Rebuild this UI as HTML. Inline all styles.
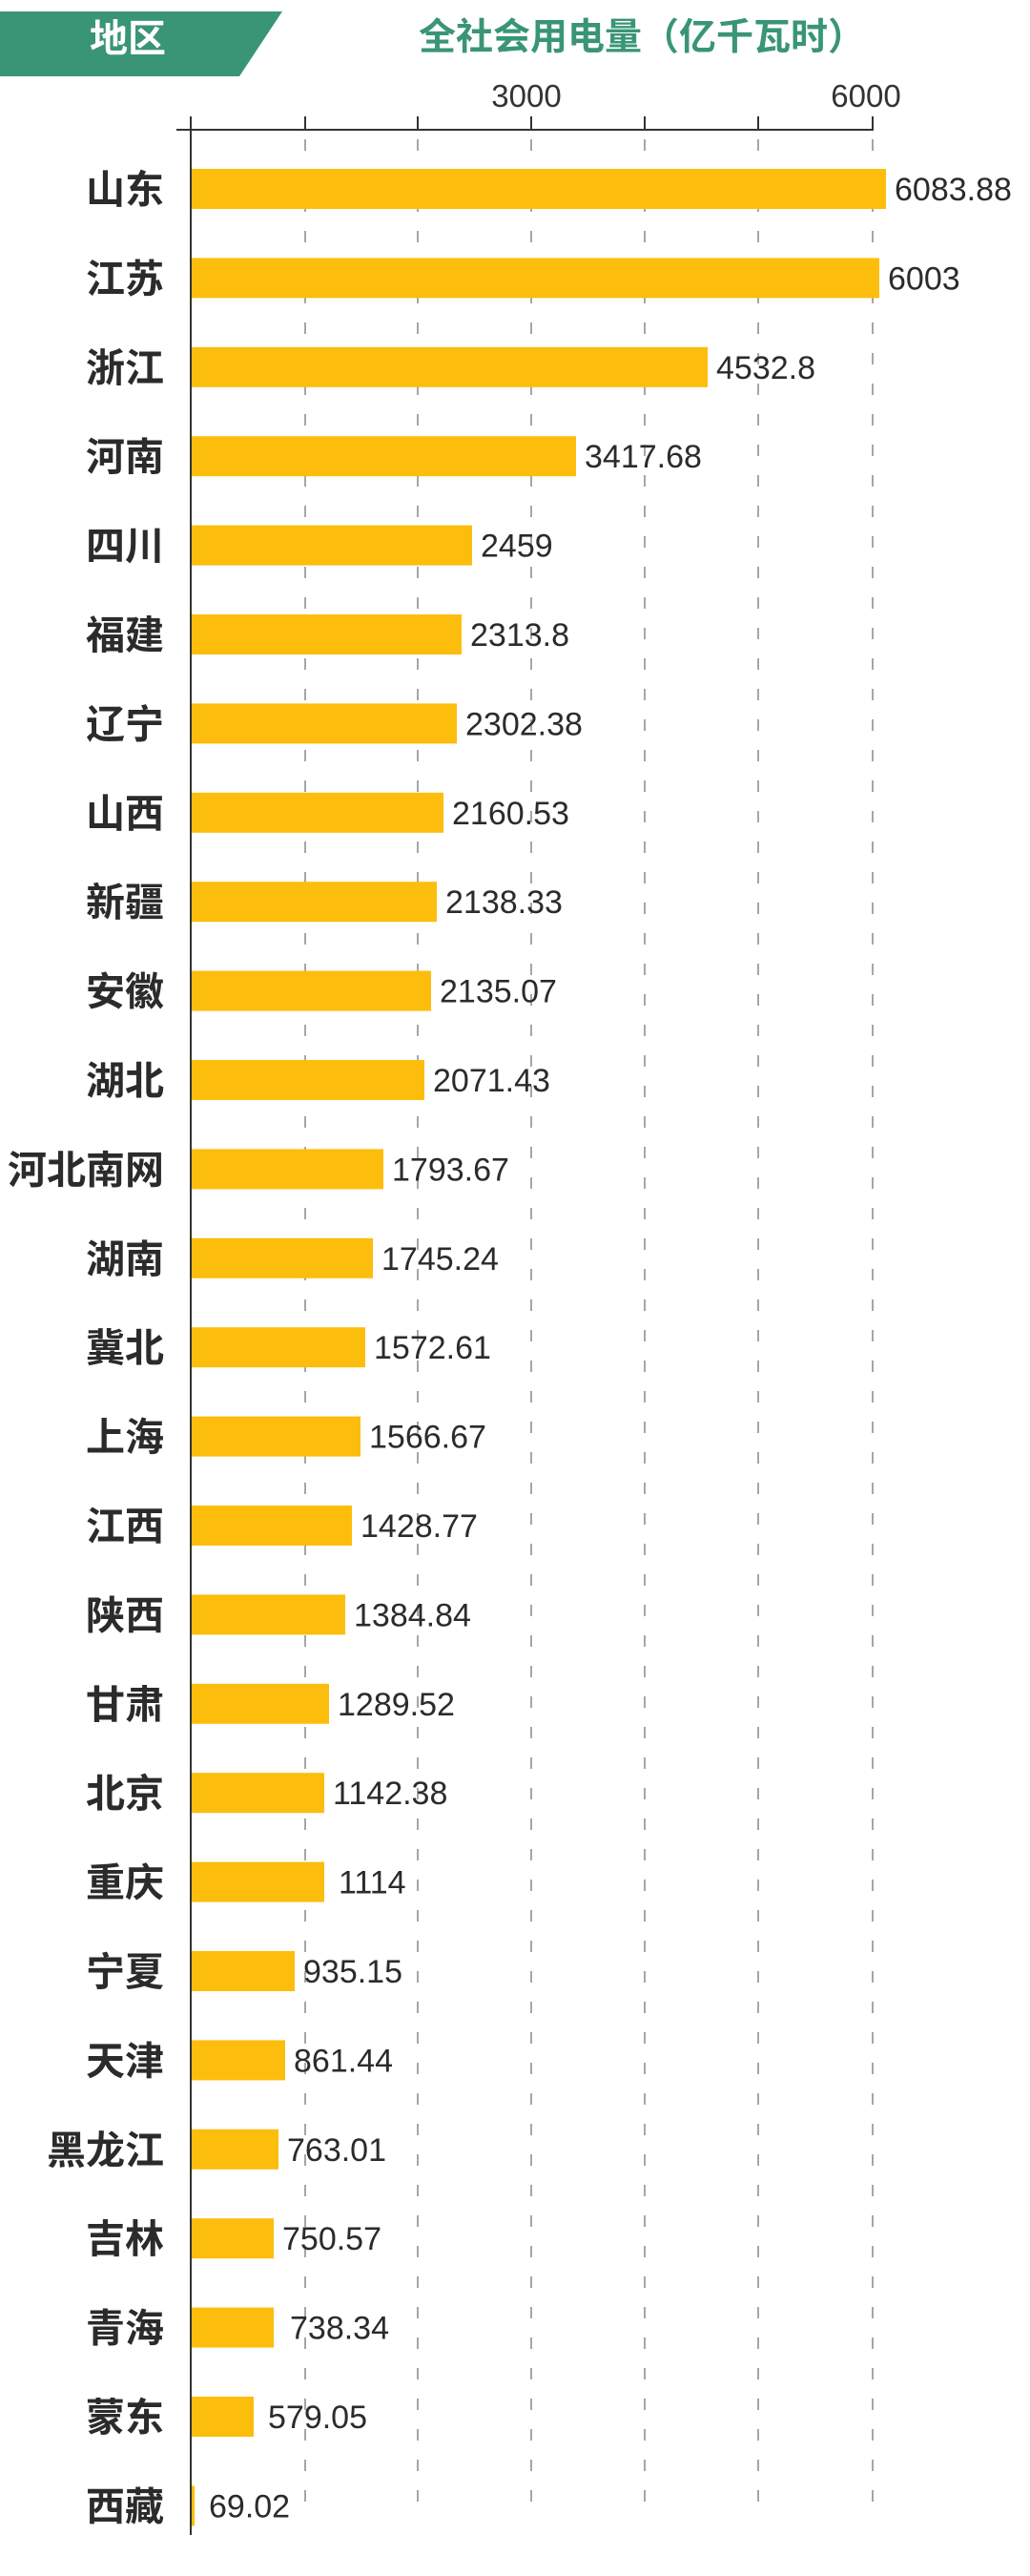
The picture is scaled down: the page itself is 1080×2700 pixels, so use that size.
<!DOCTYPE html>
<html><head><meta charset="utf-8"><style>
html,body{margin:0;padding:0;background:#fff;}
svg{display:block;}
.cat{font-family:"Liberation Sans","Noto Sans CJK SC",sans-serif;font-weight:bold;font-size:41px;fill:#2b2b2b;}
.val{font-family:"Liberation Sans",sans-serif;font-size:34px;fill:#2b2b2b;}
.tick{font-family:"Liberation Sans",sans-serif;font-size:33px;fill:#333;}
</style></head><body>
<svg width="1080" height="2700" viewBox="0 0 1080 2700" xmlns="http://www.w3.org/2000/svg">
<polygon points="0,12 296,12 251,80 0,80" fill="#3a9577"/>
<text x="134" y="54" text-anchor="middle" fill="#fff" font-family="Liberation Sans,Noto Sans CJK SC,sans-serif" font-weight="bold" font-size="40">地区</text>
<text x="673" y="52" text-anchor="middle" fill="#3a9577" font-family="Liberation Sans,Noto Sans CJK SC,sans-serif" font-weight="bold" font-size="39">全社会用电量（亿千瓦时）</text>
<text x="552" y="112" text-anchor="middle" class="tick">3000</text>
<text x="908" y="112" text-anchor="middle" class="tick">6000</text>
<line x1="185" y1="136" x2="916" y2="136" stroke="#333" stroke-width="2"/>
<g stroke="#333" stroke-width="2">
<line x1="320" y1="122" x2="320" y2="136"/><line x1="438" y1="122" x2="438" y2="136"/><line x1="557" y1="122" x2="557" y2="136"/><line x1="676" y1="122" x2="676" y2="136"/><line x1="795" y1="122" x2="795" y2="136"/><line x1="915" y1="122" x2="915" y2="136"/>
</g>
<g stroke="#888" stroke-width="1.5" stroke-dasharray="12,20">
<line x1="320" y1="146" x2="320" y2="2638"/><line x1="438" y1="146" x2="438" y2="2638"/><line x1="557" y1="146" x2="557" y2="2638"/><line x1="676" y1="146" x2="676" y2="2638"/><line x1="795" y1="146" x2="795" y2="2638"/><line x1="915" y1="146" x2="915" y2="2638"/>
</g>
<g transform="translate(0,198)"><rect x="200" y="-21" width="729" height="42" fill="#fdbd0c"/><text class="cat" x="172" y="15" text-anchor="end">山东</text><text class="val" x="938" y="12">6083.88</text></g>
<g transform="translate(0,291.4)"><rect x="200" y="-21" width="722" height="42" fill="#fdbd0c"/><text class="cat" x="172" y="15" text-anchor="end">江苏</text><text class="val" x="931" y="12">6003</text></g>
<g transform="translate(0,384.8)"><rect x="200" y="-21" width="542" height="42" fill="#fdbd0c"/><text class="cat" x="172" y="15" text-anchor="end">浙江</text><text class="val" x="751" y="12">4532.8</text></g>
<g transform="translate(0,478.2)"><rect x="200" y="-21" width="404" height="42" fill="#fdbd0c"/><text class="cat" x="172" y="15" text-anchor="end">河南</text><text class="val" x="613" y="12">3417.68</text></g>
<g transform="translate(0,571.6)"><rect x="200" y="-21" width="295" height="42" fill="#fdbd0c"/><text class="cat" x="172" y="15" text-anchor="end">四川</text><text class="val" x="504" y="12">2459</text></g>
<g transform="translate(0,665)"><rect x="200" y="-21" width="284" height="42" fill="#fdbd0c"/><text class="cat" x="172" y="15" text-anchor="end">福建</text><text class="val" x="493" y="12">2313.8</text></g>
<g transform="translate(0,758.4)"><rect x="200" y="-21" width="279" height="42" fill="#fdbd0c"/><text class="cat" x="172" y="15" text-anchor="end">辽宁</text><text class="val" x="488" y="12">2302.38</text></g>
<g transform="translate(0,851.8)"><rect x="200" y="-21" width="265" height="42" fill="#fdbd0c"/><text class="cat" x="172" y="15" text-anchor="end">山西</text><text class="val" x="474" y="12">2160.53</text></g>
<g transform="translate(0,945.2)"><rect x="200" y="-21" width="258" height="42" fill="#fdbd0c"/><text class="cat" x="172" y="15" text-anchor="end">新疆</text><text class="val" x="467" y="12">2138.33</text></g>
<g transform="translate(0,1038.6)"><rect x="200" y="-21" width="252" height="42" fill="#fdbd0c"/><text class="cat" x="172" y="15" text-anchor="end">安徽</text><text class="val" x="461" y="12">2135.07</text></g>
<g transform="translate(0,1132)"><rect x="200" y="-21" width="245" height="42" fill="#fdbd0c"/><text class="cat" x="172" y="15" text-anchor="end">湖北</text><text class="val" x="454" y="12">2071.43</text></g>
<g transform="translate(0,1225.4)"><rect x="200" y="-21" width="202" height="42" fill="#fdbd0c"/><text class="cat" x="172" y="15" text-anchor="end">河北南网</text><text class="val" x="411" y="12">1793.67</text></g>
<g transform="translate(0,1318.8)"><rect x="200" y="-21" width="191" height="42" fill="#fdbd0c"/><text class="cat" x="172" y="15" text-anchor="end">湖南</text><text class="val" x="400" y="12">1745.24</text></g>
<g transform="translate(0,1412.2)"><rect x="200" y="-21" width="183" height="42" fill="#fdbd0c"/><text class="cat" x="172" y="15" text-anchor="end">冀北</text><text class="val" x="392" y="12">1572.61</text></g>
<g transform="translate(0,1505.6)"><rect x="200" y="-21" width="178" height="42" fill="#fdbd0c"/><text class="cat" x="172" y="15" text-anchor="end">上海</text><text class="val" x="387" y="12">1566.67</text></g>
<g transform="translate(0,1599)"><rect x="200" y="-21" width="169" height="42" fill="#fdbd0c"/><text class="cat" x="172" y="15" text-anchor="end">江西</text><text class="val" x="378" y="12">1428.77</text></g>
<g transform="translate(0,1692.4)"><rect x="200" y="-21" width="162" height="42" fill="#fdbd0c"/><text class="cat" x="172" y="15" text-anchor="end">陕西</text><text class="val" x="371" y="12">1384.84</text></g>
<g transform="translate(0,1785.8)"><rect x="200" y="-21" width="145" height="42" fill="#fdbd0c"/><text class="cat" x="172" y="15" text-anchor="end">甘肃</text><text class="val" x="354" y="12">1289.52</text></g>
<g transform="translate(0,1879.2)"><rect x="200" y="-21" width="140" height="42" fill="#fdbd0c"/><text class="cat" x="172" y="15" text-anchor="end">北京</text><text class="val" x="349" y="12">1142.38</text></g>
<g transform="translate(0,1972.6)"><rect x="200" y="-21" width="140" height="42" fill="#fdbd0c"/><text class="cat" x="172" y="15" text-anchor="end">重庆</text><text class="val" x="355" y="12">1114</text></g>
<g transform="translate(0,2066)"><rect x="200" y="-21" width="109" height="42" fill="#fdbd0c"/><text class="cat" x="172" y="15" text-anchor="end">宁夏</text><text class="val" x="318" y="12">935.15</text></g>
<g transform="translate(0,2159.4)"><rect x="200" y="-21" width="99" height="42" fill="#fdbd0c"/><text class="cat" x="172" y="15" text-anchor="end">天津</text><text class="val" x="308" y="12">861.44</text></g>
<g transform="translate(0,2252.8)"><rect x="200" y="-21" width="92" height="42" fill="#fdbd0c"/><text class="cat" x="172" y="15" text-anchor="end">黑龙江</text><text class="val" x="301" y="12">763.01</text></g>
<g transform="translate(0,2346.2)"><rect x="200" y="-21" width="87" height="42" fill="#fdbd0c"/><text class="cat" x="172" y="15" text-anchor="end">吉林</text><text class="val" x="296" y="12">750.57</text></g>
<g transform="translate(0,2439.6)"><rect x="200" y="-21" width="87" height="42" fill="#fdbd0c"/><text class="cat" x="172" y="15" text-anchor="end">青海</text><text class="val" x="304" y="12">738.34</text></g>
<g transform="translate(0,2533)"><rect x="200" y="-21" width="66" height="42" fill="#fdbd0c"/><text class="cat" x="172" y="15" text-anchor="end">蒙东</text><text class="val" x="281" y="12">579.05</text></g>
<g transform="translate(0,2626.4)"><rect x="200" y="-21" width="4" height="42" fill="#fdbd0c"/><text class="cat" x="172" y="15" text-anchor="end">西藏</text><text class="val" x="219" y="12">69.02</text></g>
<line x1="200" y1="122" x2="200" y2="2657" stroke="#333" stroke-width="2"/>
</svg>
</body></html>
